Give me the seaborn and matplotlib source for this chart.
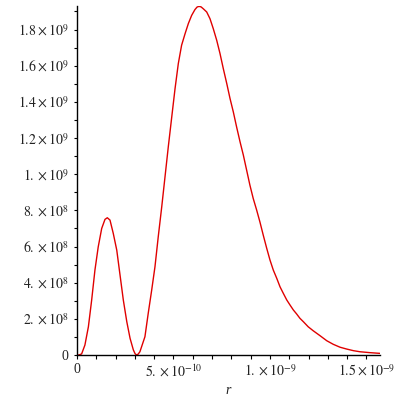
import pandas as pd
import seaborn as sns
import matplotlib.pyplot as plt
from matplotlib.ticker import MultipleLocator, FixedLocator, FixedFormatter

# r in units of 1e-10, P in units of 1e8
r_vals = [0.0, 0.10, 0.24, 0.41, 0.59, 0.76, 0.93, 1.10, 1.28, 1.45, 1.57, 1.71,
          1.88, 2.06, 2.23, 2.40, 2.58, 2.75, 2.92, 3.01, 3.09, 3.17, 3.26, 3.52, 3.69, 3.87,
          4.04, 4.21, 4.39, 4.56, 4.73, 4.91, 5.08, 5.25, 5.42, 5.60, 5.77, 5.94,
          6.11, 6.22, 6.32, 6.43, 6.54, 6.72, 6.89, 7.06, 7.24, 7.41, 7.58, 7.76, 7.93, 8.10,
          8.27, 8.45, 8.62, 8.79, 8.96, 9.13, 9.31, 9.48, 9.65, 9.83, 10.00, 10.17,
          10.35, 10.52, 10.69, 10.87, 11.04, 11.21, 11.38, 11.55, 11.73, 11.98,
          12.24, 12.59, 12.94, 13.28, 13.63, 13.97, 14.32, 14.66, 15.18, 15.70]
p_vals = [0.0, 0.0, 0.06, 0.55, 1.56, 3.04, 4.70, 5.98, 7.00, 7.50, 7.59, 7.46,
          6.72, 5.80, 4.42, 3.04, 1.84, 0.92, 0.28, 0.07, 0.0, 0.05, 0.18, 1.01, 2.30, 3.59,
          4.88, 6.54, 8.19, 9.85, 11.51, 13.17, 14.73, 16.12, 17.13, 17.77, 18.33, 18.78,
          19.10, 19.24, 19.28, 19.25, 19.15, 18.97, 18.60, 18.05, 17.40, 16.67, 15.84, 15.01, 14.18, 13.44,
          12.61, 11.78, 11.05, 10.22, 9.39, 8.66, 8.01, 7.35, 6.63, 5.90, 5.25, 4.70,
          4.24, 3.77, 3.41, 3.04, 2.76, 2.49, 2.27, 2.03, 1.84, 1.56,
          1.34, 1.07, 0.79, 0.59, 0.43, 0.33, 0.24, 0.18, 0.13, 0.09]

x_ticks = [0, 5e-10, 1e-9, 1.5e-9]
x_labels = ['0', r'$5.\times10^{-10}$', r'$1.\times10^{-9}$', r'$1.5\times10^{-9}$']
y_ticks = [0, 2e8, 4e8, 6e8, 8e8, 1e9, 1.2e9, 1.4e9, 1.6e9, 1.8e9]
y_labels = ['0', r'$2.\times10^{8}$', r'$4.\times10^{8}$', r'$6.\times10^{8}$',
            r'$8.\times10^{8}$', r'$1.\times10^{9}$', r'$1.2\times10^{9}$',
            r'$1.4\times10^{9}$', r'$1.6\times10^{9}$', r'$1.8\times10^{9}$']

df = pd.DataFrame({'r': [v * 1e-10 for v in r_vals], 'P': [v * 1e8 for v in p_vals]})

sns.set_style('ticks')
plt.rcParams['font.family'] = ['Liberation Serif', 'DejaVu Serif']
plt.rcParams['mathtext.fontset'] = 'stix'

fig = plt.figure(figsize=(4, 4), dpi=100)
ax = fig.add_axes([0.1925, 0.1125, 0.7575, 0.8725])
sns.lineplot(data=df, x='r', y='P', ax=ax, color='#e00000', linewidth=1.0)

ax.set_xlim(0, 1.57e-9)
ax.set_ylim(0, 1.93e9)
ax.spines['top'].set_visible(False)
ax.spines['right'].set_visible(False)
for s in ['left', 'bottom']:
    ax.spines[s].set_linewidth(1.0)
    ax.spines[s].set_color('black')

ax.xaxis.set_major_locator(FixedLocator(x_ticks))
ax.xaxis.set_major_formatter(FixedFormatter(x_labels))
ax.yaxis.set_major_locator(FixedLocator(y_ticks))
ax.yaxis.set_major_formatter(FixedFormatter(y_labels))
ax.xaxis.set_minor_locator(MultipleLocator(1e-10))
ax.yaxis.set_minor_locator(MultipleLocator(1e8))
ax.tick_params(axis='x', which='both', length=3, width=0.8, direction='out',
               labelsize=10, pad=3, colors='black', labelcolor='#222222')
ax.tick_params(axis='y', which='both', length=2.2, width=0.8, direction='out',
               labelsize=10, pad=4, colors='black', labelcolor='#222222')
ax.set_xlabel('r', fontstyle='italic', fontsize=10, labelpad=3, color='#222222')
ax.set_ylabel('')

fig.savefig('out.png', dpi=100)
